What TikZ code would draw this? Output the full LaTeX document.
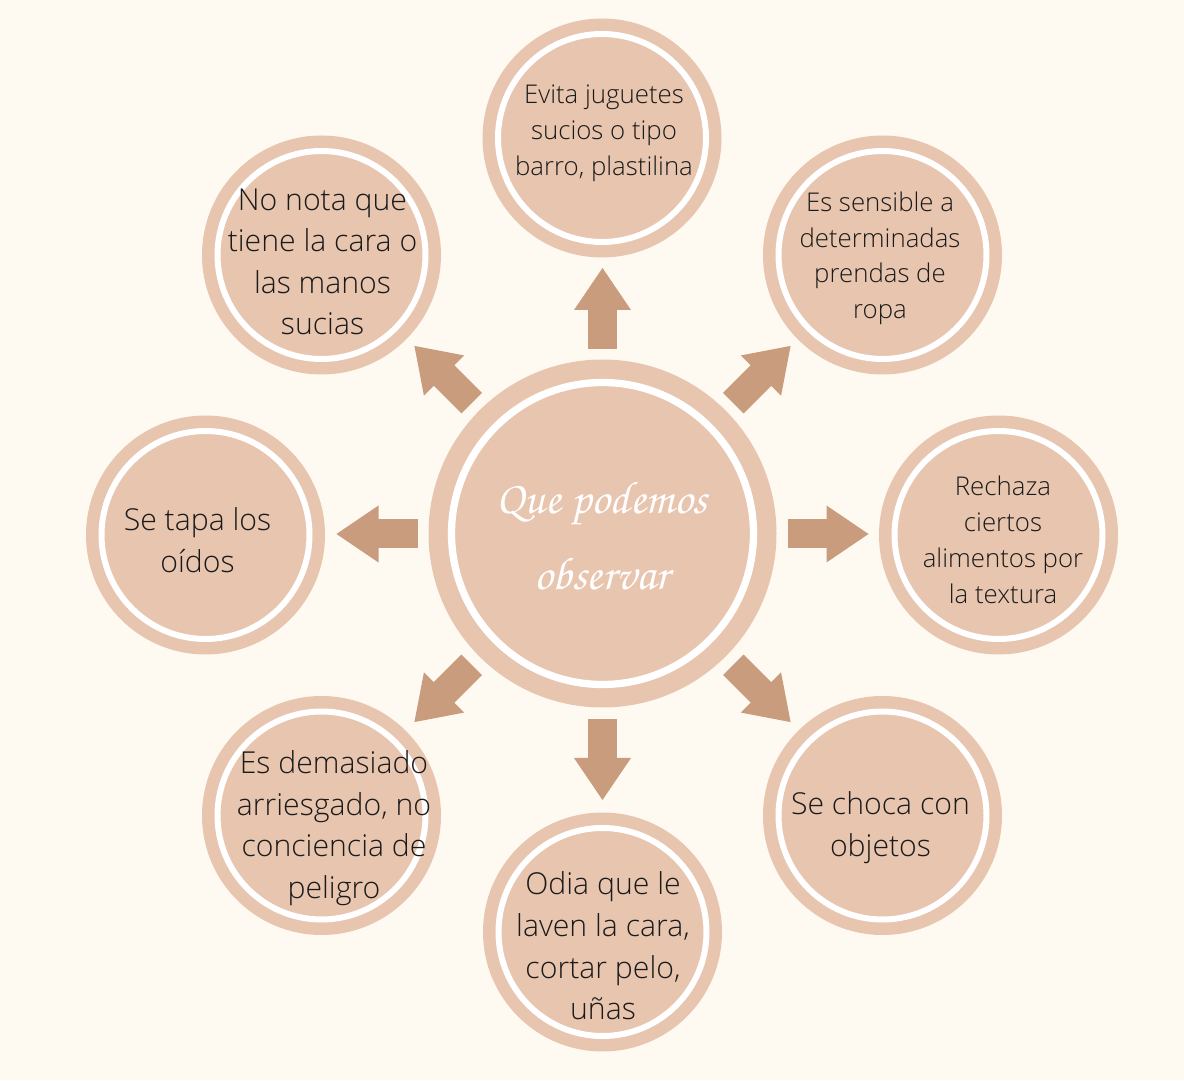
\documentclass[tikz,border=0pt]{standalone}
\usepackage{fontspec}
\setmainfont{Open Sans}[UprightFont=* Light]
\newfontfamily\titlefont{texgyrechorus-mediumitalic.otf}
\definecolor{bgcol}{HTML}{FEFAF2}
\definecolor{ringcol}{HTML}{E8C5AF}
\definecolor{arrowcol}{HTML}{C99C7E}
\definecolor{txtcol}{HTML}{1A1A1A}
\begin{document}
\begin{tikzpicture}[x=1pt,y=1pt,
  disc/.style={circle, fill=ringcol, inner sep=0pt, minimum size=#1},
  whitering/.style={circle, draw=white, inner sep=0pt, minimum size=#1},
  ringsm/.style={whitering=208pt, line width=6pt},
  smalltxt/.style={font=\fontsize{25.8}{35.8}\selectfont, align=center, text=txtcol, inner sep=0pt},
  bigtxt/.style={font=\fontsize{30.2}{41.6}\selectfont, align=center, text=txtcol, inner sep=0pt},
  titletxt/.style={font=\titlefont\fontsize{46}{76}\selectfont, align=center, text=white, inner sep=0pt},
  shaft/.style={draw=arrowcol, line width=29pt},
  head/.style={fill=arrowcol}
]
\useasboundingbox (0,0) rectangle (1184,1080);
\fill[bgcol] (0,0) rectangle (1184,1080);

% centre
\node[disc=348pt] (c) at (602.5,546.5) {};
\node[whitering=302pt, line width=7.3pt] (cr) at (c) {};
\node[titletxt] (ct) at (602,544) {\strut Que podemos\\observar\strut};

% outer circles
\node[disc=239pt] (o1) at (602,942) {};
\node[ringsm] (r1) at (o1) {};
\node[smalltxt] (t1) at (604,947.5) {\strut Evita juguetes\\sucios o tipo\\barro, plastilina\strut};

\node[disc=239pt] (o2) at (882.5,825) {};
\node[ringsm] (r2) at (o2) {};
\node[smalltxt] (t2) at (880,822.2) {\strut Es sensible a\\determinadas\\prendas de\\ropa\strut};

\node[disc=239pt] (o3) at (998.5,545) {};
\node[ringsm] (r3) at (o3) {};
\node[smalltxt, font=\fontsize{25.8}{36.2}\selectfont] (t3) at (1003,537.7) {\strut Rechaza\\ciertos\\alimentos por\\la textura\strut};

\node[disc=239pt] (o4) at (882.5,264.5) {};
\node[ringsm] (r4) at (o4) {};
\node[bigtxt] (t4) at (880.5,252.7) {\strut Se choca con\\objetos\strut};

\node[disc=239pt] (o5) at (602.5,148) {};
\node[ringsm] (r5) at (o5) {};
\node[bigtxt] (t5) at (603,131) {\strut Odia que le\\laven la cara,\\cortar pelo,\\uñas\strut};

\node[disc=239pt] (o6) at (321.5,264.5) {};
\node[ringsm] (r6) at (o6) {};
\node[bigtxt] (t6) at (334,252.3) {\strut Es demasiado\\arriesgado, no\\conciencia de\\peligro\strut};

\node[disc=239pt] (o7) at (205.5,545) {};
\node[ringsm] (r7) at (o7) {};
\node[bigtxt] (t7) at (197.5,537) {\strut Se tapa los\\oídos\strut};

\node[disc=239pt] (o8) at (321.5,825) {};
\node[ringsm] (r8) at (o8) {};
\node[bigtxt] (t8) at (322.5,815.8) {\strut No nota que\\tiene la cara o\\las manos\\sucias\strut};

% arrows: shaft from (s) to just past (m), head from (m) to tip (e)
\foreach \k/\ang in {1/90, 2/45, 3/0, 4/-45, 5/-90, 6/-135, 7/180, 8/135}{
  \path (602.5,546) ++(\ang:185) coordinate (a\k s) ++(\ang:39) coordinate (a\k m)
        ++(\ang:4) coordinate (a\k x) ++(\ang:38) coordinate (a\k e);
  \draw[shaft] (a\k s) -- (a\k x);
  \fill[head] (a\k m) ++(\ang+90:28.5) -- (a\k e) -- ([shift={(\ang-90:28.5)}]a\k m) -- cycle;
}
\end{tikzpicture}
\end{document}
